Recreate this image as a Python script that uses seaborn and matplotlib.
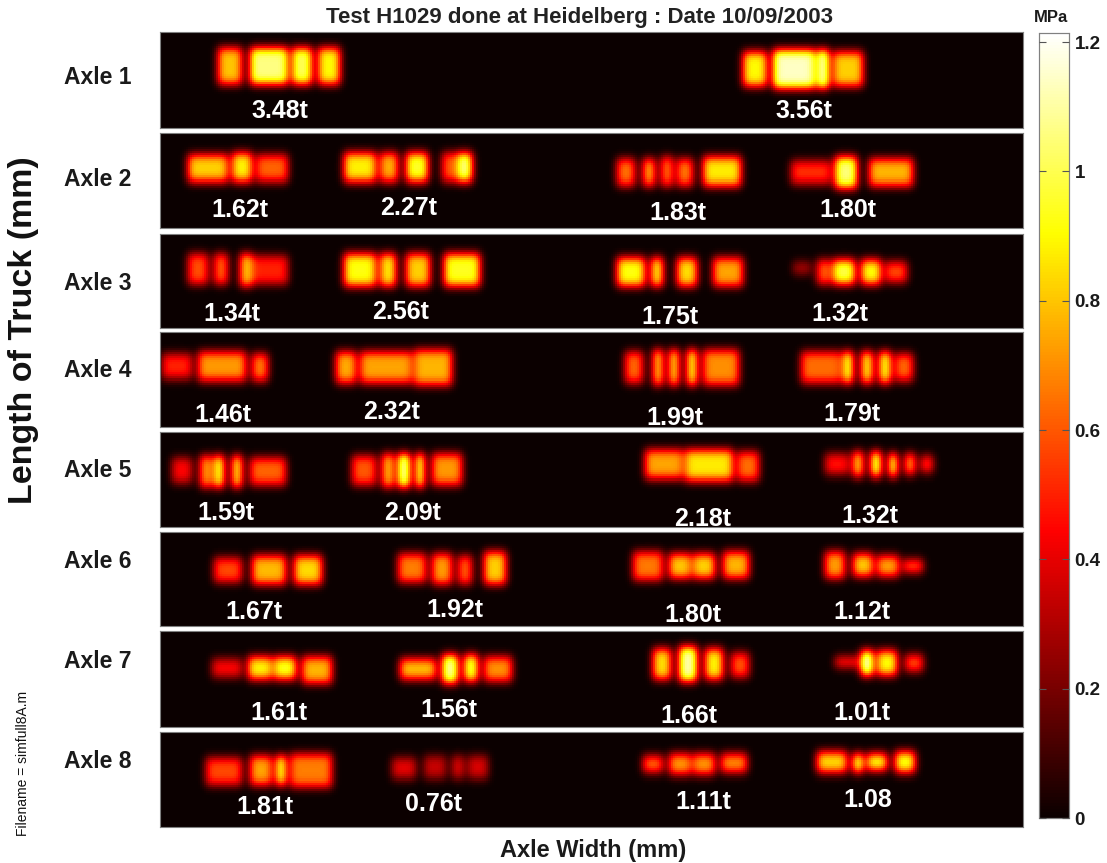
import numpy as np
import matplotlib
matplotlib.use("Agg")
import matplotlib.pyplot as plt
import seaborn as sns

# Tyre-rib contact patches, per axle:
# (width from, width to, length from, length to, pressure in MPa)
AXLE_1 = [(58,83,16,54,.80),(90,128,15,54,1.06),(133,153,15,54,1.0),(158,180,16,53,.90),
          (583,607,19,56,.90),(613,655,18,57,1.14),(657,668,18,57,1.02),(673,703,19,56,.82)]
AXLE_2 = [(28,68,21,49,.82),(72,93,19,50,.88),(97,128,21,49,.62),
          (185,217,20,49,.88),(220,238,20,49,.75),(247,268,20,49,.95),(282,298,19,50,.62),(298,312,19,50,1.02),
          (457,475,25,53,.64),(483,495,25,53,.66),(500,512,24,54,.58),(517,533,25,53,.64),(543,580,24,54,.87),
          (630,670,27,52,.52),(675,697,24,55,1.05),(708,753,25,54,.77)]
AXLE_3 = [(28,48,20,52,.58),(55,68,20,52,.58),(80,93,19,53,.76),(93,128,21,51,.50),
          (185,217,19,54,.92),(220,237,20,53,.84),(247,270,20,53,.82),(285,320,19,54,.94),
          (457,485,24,54,.92),(490,503,24,54,.78),(517,537,24,54,.84),(552,582,24,54,.74),
          (632,650,28,42,.24),(657,670,25,52,.58),(672,695,25,52,.98),(700,720,25,52,.90),(725,747,28,49,.56)]
AXLE_4 = [(3,33,22,48,.50),(38,87,20,50,.72),(92,108,21,50,.64),
          (177,197,20,52,.75),(200,253,20,52,.74),(255,292,17,54,.77),
          (465,483,20,52,.62),(493,503,18,53,.68),(508,518,18,53,.71),(527,537,18,53,.78),(543,578,17,54,.70),
          (640,680,20,51,.64),(683,693,19,52,.84),(700,713,19,52,.78),(718,730,19,52,.83),(735,753,21,49,.62)]
AXLE_5 = [(12,33,26,52,.44),(40,52,24,55,.68),(55,65,24,55,.84),(73,82,24,55,.74),(90,127,25,54,.62),
          (193,217,23,53,.60),(222,235,22,55,.71),(238,250,22,55,1.0),(257,265,22,55,.76),(273,303,22,54,.72),
          (485,522,18,48,.74),(525,573,18,49,.87),(577,598,19,49,.64),
          (665,688,22,44,.46),(693,702,20,46,.70),(710,720,20,46,.85),(728,737,21,45,.72),(745,755,21,44,.60),(760,772,24,42,.44)]
AXLE_6 = [(55,83,26,51,.57),(92,127,24,53,.78),(135,163,23,54,.84),
          (238,267,21,52,.67),(273,293,21,53,.72),(298,312,24,53,.58),(325,347,20,53,.82),
          (473,502,19,49,.66),(508,530,21,48,.80),(533,555,21,48,.82),(562,588,20,48,.77),
          (665,685,20,48,.72),(692,713,22,46,.80),(717,738,24,45,.72),(742,762,27,42,.50)]
AXLE_7 = [(53,83,28,47,.43),(88,112,26,50,.88),(115,137,26,50,.93),(143,172,25,53,.77),
          (240,277,27,49,.77),(282,298,23,53,1.05),(305,318,23,52,.92),(325,353,25,52,.70),
          (492,510,18,50,.84),(518,537,16,51,1.10),(545,563,18,50,.88),(570,588,21,48,.58),
          (675,698,26,38,.38),(700,712,19,45,1.05),(717,737,20,45,.90),(745,763,24,42,.54)]
AXLE_8 = [(47,83,25,53,.57),(90,112,24,54,.74),(117,127,24,54,.82),(130,172,22,55,.67),
          (233,257,25,47,.39),(265,287,23,48,.34),(293,305,23,48,.34),(308,328,23,48,.37),
          (483,502,23,42,.58),(508,530,21,43,.70),(533,555,21,44,.70),(560,587,22,42,.67),
          (657,687,20,41,.82),(692,702,21,41,.80),(707,727,21,40,.85),(735,755,20,41,.90)]
AXLES = [AXLE_1, AXLE_2, AXLE_3, AXLE_4, AXLE_5, AXLE_6, AXLE_7, AXLE_8]

AXLE_NAMES = ["Axle 1","Axle 2","Axle 3","Axle 4","Axle 5","Axle 6","Axle 7","Axle 8"]
LOADS = ["3.48t","3.56t",
         "1.62t","2.27t","1.83t","1.80t",
         "1.34t","2.56t","1.75t","1.32t",
         "1.46t","2.32t","1.99t","1.79t",
         "1.59t","2.09t","2.18t","1.32t",
         "1.67t","1.92t","1.80t","1.12t",
         "1.61t","1.56t","1.66t","1.01t",
         "1.81t","0.76t","1.11t","1.08"]
CBAR_TICKS = [0, 0.2, 0.4, 0.6, 0.8, 1, 1.2]
CBAR_LABELS = ["0", "0.2", "0.4", "0.6", "0.8", "1", "1.2"]

# ---- layout (pixels of the 1107x863 picture) ----
W, H = 1107, 863
PANEL_X = (160, 1023)
PANEL_Y = [(32,128),(133,228),(234,328),(332,427),(432,527),(532,626),(631,727),(732,827)]
NAME_Y = [77,179,284,370,470,561,662,761]
LOAD_XY = [(280,111),(804,111),
           (240,210),(409,208),(678,213),(848,210),
           (232,314),(401,312),(670,317),(840,314),
           (223,415),(392,412),(675,418),(852,414),
           (226,513),(413,513),(703,519),(870,516),
           (254,612),(455,610),(693,615),(862,612),
           (279,713),(449,710),(689,716),(862,713),
           (265,807),(434,804),(703,802),(868,800)]

sns.set_theme(style="white")
plt.rcParams["font.family"] = ["Liberation Sans", "DejaVu Sans"]
fig = plt.figure(figsize=(W/100, H/100), dpi=100, facecolor="white")

def axpx(x0, x1, y0, y1):
    return fig.add_axes([x0/W, 1-y1/H, (x1-x0)/W, (y1-y0)/H])

def txt(x, y, s, **kw):
    kw.setdefault("ha", "center"); kw.setdefault("va", "center")
    return fig.text(x/W, 1-y/H, s, **kw)

def blur(field, sx, sy):
    def kernel(s):
        r = np.arange(-int(3*s), int(3*s)+1)
        k = np.exp(-r**2/(2*s**2))
        return k/k.sum()
    kx, ky = kernel(sx), kernel(sy)
    field = np.apply_along_axis(lambda v: np.convolve(v, kx, mode="same"), 1, field)
    return np.apply_along_axis(lambda v: np.convolve(v, ky, mode="same"), 0, field)

VMAX = 1.214
CELL = 2
SHRINK_X, SHRINK_Y = 0, 1

def pressure_field(ribs, ny, nx):
    """Soft footprint whose value at each rib centre equals the pressure read for it."""
    boxes = [((c+SHRINK_Y)//CELL, (d-SHRINK_Y)//CELL, (a+SHRINK_X)//CELL, (b-SHRINK_X)//CELL) for a, b, c, d, _ in ribs]
    amps = [r[4] for r in ribs]
    for _ in range(6):
        raw = np.zeros((ny, nx))
        for (r0, r1, c0, c1), amp in zip(boxes, amps):
            raw[r0:r1, c0:c1] = amp
        field = blur(raw, 2.0, 2.4)
        amps = [min(amp*rib[4]/max(field[(b[0]+b[1])//2, (b[2]+b[3])//2], 1e-3), 1.7)
                for amp, rib, b in zip(amps, ribs, boxes)]
    return field

cax = axpx(1039, 1069, 33, 818)
for i, (ribs, (y0, y1)) in enumerate(zip(AXLES, PANEL_Y)):
    nx = (PANEL_X[1]-PANEL_X[0])//CELL
    ny = (y1-y0)//CELL
    field = pressure_field(ribs, ny, nx)
    ax = axpx(PANEL_X[0], PANEL_X[1], y0, y1)
    sns.heatmap(field, ax=ax, cmap="hot", vmin=0, vmax=VMAX, xticklabels=False, yticklabels=False,
                cbar=(i == 0), cbar_ax=cax if i == 0 else None, linewidths=0, rasterized=True)
    for s in ax.spines.values():
        s.set_visible(True); s.set_color("#808080"); s.set_linewidth(0.8)
    txt(98, NAME_Y[i], AXLE_NAMES[i], fontsize=16.5, fontweight="bold", color="#1a1a1a")

for s, (x, y) in zip(LOADS, LOAD_XY):
    txt(x, y, s, fontsize=18, fontweight="bold", color="white")

cax.set_axisbelow(False)
cax.set_yticks(CBAR_TICKS)
cax.set_yticklabels(CBAR_LABELS, fontsize=13.5, fontweight="bold", color="#1a1a1a")
cax.tick_params(axis="y", which="major", direction="in", left=True, right=True, length=5,
                width=0.8, color="#555555", pad=4, labelleft=False, labelright=True)
for s in cax.spines.values():
    s.set_visible(True); s.set_color("#808080"); s.set_linewidth(0.8)

txt(579, 17, "Test H1029 done at Heidelberg : Date 10/09/2003", fontsize=16, fontweight="bold", color="#222222")
txt(1051, 18, "MPa", fontsize=12, fontweight="bold", color="#1a1a1a")
txt(593, 850, "Axle Width (mm)", fontsize=17, fontweight="bold", color="#1a1a1a")
txt(24, 330, "Length of Truck (mm)", fontsize=24.5, fontweight="bold", rotation=90, color="#111111")
txt(23, 763, "Filename = simfull8A.m", fontsize=10, rotation=90, color="#111111")

fig.savefig("out.png", dpi=100, facecolor="white")
